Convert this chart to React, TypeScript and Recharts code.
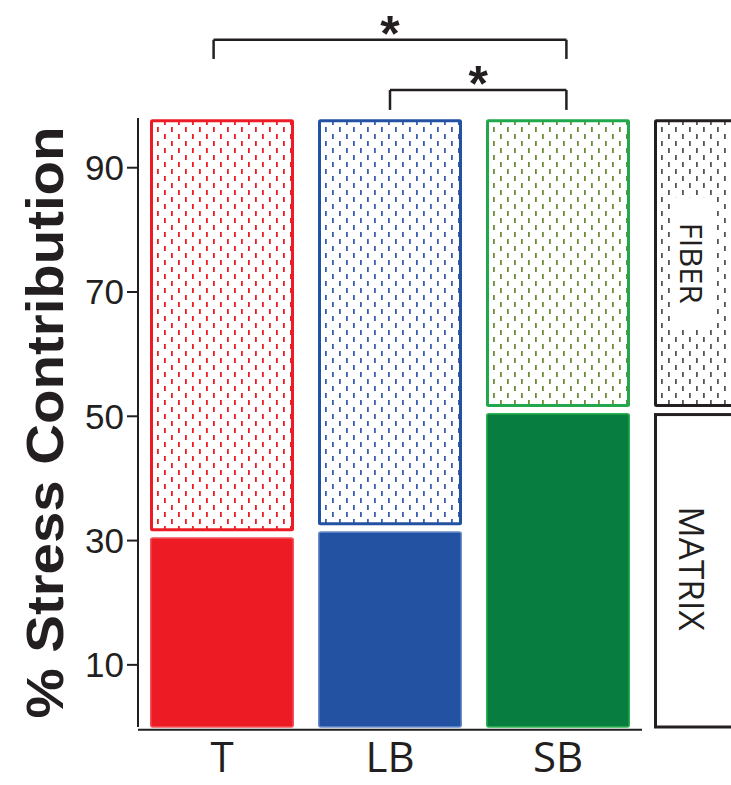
import { BarChart, Bar, XAxis, YAxis, ReferenceLine, Label } from 'recharts';

// stress split per tissue; the last column is the key box on the right
const categories = ['T', 'LB', 'SB', 'key'];
const matrixShare = [31, 32, 51, 51];
const fiberShare = [66.8, 65.8, 46.8, 46.8];
const yTicks = [10, 30, 50, 70, 90];

// significance brackets, in band units of the hidden numeric axis (band i is centred on i)
const bracketFrom = [-0.05, 1.0];
const bracketTo = [2.05, 2.05];
const bracketTop = [110.6, 102.5];
const bracketFoot = [107.5, 99.3];

const matrixFill = ['#ED1C24', '#2352A3', '#077D40', '#FFFFFF'];
const matrixEdge = ['#F2545B', '#6C8DCB', '#2DB34F', '#231F20'];
const fiberEdge = ['#ED1C24', '#2352A3', '#22A84C', '#231F20'];
const dashColor = ['#ED1C24', '#3A5EAE', '#6F8B3A', '#555555'];

const INK = '#231F20';

const chartData = categories.map((name, i) => ({
  name,
  slot: i,
  matrix: matrixShare[i],
  fiber: fiberShare[i],
}));

const MatrixShape = (props: any) => {
  const { x, y, width, height, payload } = props;
  const i = categories.indexOf(payload.name);
  if (payload.name === 'key') {
    return (
      <g>
        <rect x={x + 1.5} y={y + 4.5} width={width - 3} height={height - 4.5} fill="#fff" stroke={INK} strokeWidth={3} />
        <text
          transform={`translate(${x + 38},${y + height / 2}) rotate(90)`}
          textAnchor="middle"
          dominantBaseline="central"
          fontFamily="Open Sans"
          fontSize={35}
          fill={INK}
        >
          MATRIX
        </text>
      </g>
    );
  }
  return (
    <rect
      x={x + 0.75}
      y={y + 3.75}
      width={width - 1.5}
      height={height - 3.75}
      rx={2}
      fill={matrixFill[i]}
      stroke={matrixEdge[i]}
      strokeWidth={1.5}
    />
  );
};

const FiberShape = (props: any) => {
  const { x, y, width, height, payload } = props;
  const i = categories.indexOf(payload.name);
  const h = height - 3;
  return (
    <g>
      <rect
        x={x + 1.5}
        y={y + 1.5}
        width={width - 3}
        height={h - 3}
        rx={1}
        fill={`url(#dash-${i})`}
        stroke={fiberEdge[i]}
        strokeWidth={3}
      />
      {payload.name === 'key' && (
        <g>
          <rect x={x + 16} y={y + h / 2 - 66} width={46} height={132} fill="#fff" />
          <text
            transform={`translate(${x + 38},${y + h / 2}) rotate(90)`}
            textAnchor="middle"
            dominantBaseline="central"
            fontFamily="Open Sans"
            fontSize={31}
            fill={INK}
          >
            FIBER
          </text>
        </g>
      )}
    </g>
  );
};

const YTitle = ({ viewBox }: any) => {
  const cy = viewBox.y + viewBox.height / 2;
  return (
    <text
      transform={`translate(63,${cy}) rotate(-90)`}
      textAnchor="middle"
      fontFamily="Liberation Sans"
      fontWeight="bold"
      fontSize={52}
      textLength={592}
      lengthAdjust="spacingAndGlyphs"
      fill={INK}
    >
      % Stress Contribution
    </text>
  );
};

const StressContributionChart = () => {
  return (
    <div style={{ position: 'absolute', left: 0, top: 0, width: 731, height: 785, overflow: 'hidden', background: '#fff' }}>
      <BarChart
        width={820}
        height={785}
        data={chartData}
        margin={{ top: 118, right: 10, bottom: 0, left: 0 }}
        barCategoryGap={12}
      >
        <defs>
          {dashColor.map((c, i) => (
            <pattern key={i} id={`dash-${i}`} width={14} height={14} patternUnits="userSpaceOnUse">
              <rect x={3} y={1} width={1.8} height={5} fill={c} />
              <rect x={10} y={8} width={1.8} height={5} fill={c} />
            </pattern>
          ))}
        </defs>
        <XAxis
          dataKey="name"
          axisLine={false}
          tickLine={false}
          tickSize={0}
          tickMargin={15}
          height={58}
          interval={0}
          tick={{ fontFamily: 'Open Sans', fontSize: 42, fill: INK }}
          tickFormatter={(v) => (v === 'key' ? '' : v)}
        />
        <XAxis
          xAxisId="num"
          dataKey="slot"
          type="number"
          domain={[-0.5, 3.5]}
          allowDataOverflow
          hide
        />
        <YAxis
          width={138}
          domain={[0, 98]}
          ticks={yTicks}
          tickSize={11}
          tickMargin={3}
          axisLine={{ stroke: INK, strokeWidth: 2 }}
          tickLine={{ stroke: INK, strokeWidth: 2 }}
          tick={{ fontFamily: 'Liberation Sans', fontSize: 35, fill: INK }}
        >
          <Label content={<YTitle />} />
        </YAxis>
        <Bar dataKey="matrix" stackId="s" shape={<MatrixShape />} isAnimationActive={false} />
        <Bar dataKey="fiber" stackId="s" shape={<FiberShape />} isAnimationActive={false} />
        {/* x axis line under the three tissue columns only */}
        <ReferenceLine
          xAxisId="num"
          segment={[{ x: -0.5, y: -0.45 }, { x: 2.5, y: -0.45 }]}
          stroke={INK}
          strokeWidth={2}
          ifOverflow="visible"
        />
        {bracketFrom.map((from, i) => (
          <ReferenceLine
            key={`top-${i}`}
            xAxisId="num"
            segment={[{ x: from, y: bracketTop[i] }, { x: bracketTo[i], y: bracketTop[i] }]}
            stroke={INK}
            strokeWidth={2.5}
            ifOverflow="visible"
            label={{ value: '*', position: 'top', offset: -11, fontSize: 50, fontWeight: 'bold', fontFamily: 'Liberation Sans', fill: INK }}
          />
        ))}
        {bracketFrom.map((from, i) => (
          <ReferenceLine
            key={`left-${i}`}
            xAxisId="num"
            segment={[{ x: from, y: bracketTop[i] }, { x: from, y: bracketFoot[i] }]}
            stroke={INK}
            strokeWidth={2.5}
            ifOverflow="visible"
          />
        ))}
        {bracketTo.map((to, i) => (
          <ReferenceLine
            key={`right-${i}`}
            xAxisId="num"
            segment={[{ x: to, y: bracketTop[i] }, { x: to, y: bracketFoot[i] }]}
            stroke={INK}
            strokeWidth={2.5}
            ifOverflow="visible"
          />
        ))}
      </BarChart>
    </div>
  );
};

export default function App() {
  return <StressContributionChart />;
}
